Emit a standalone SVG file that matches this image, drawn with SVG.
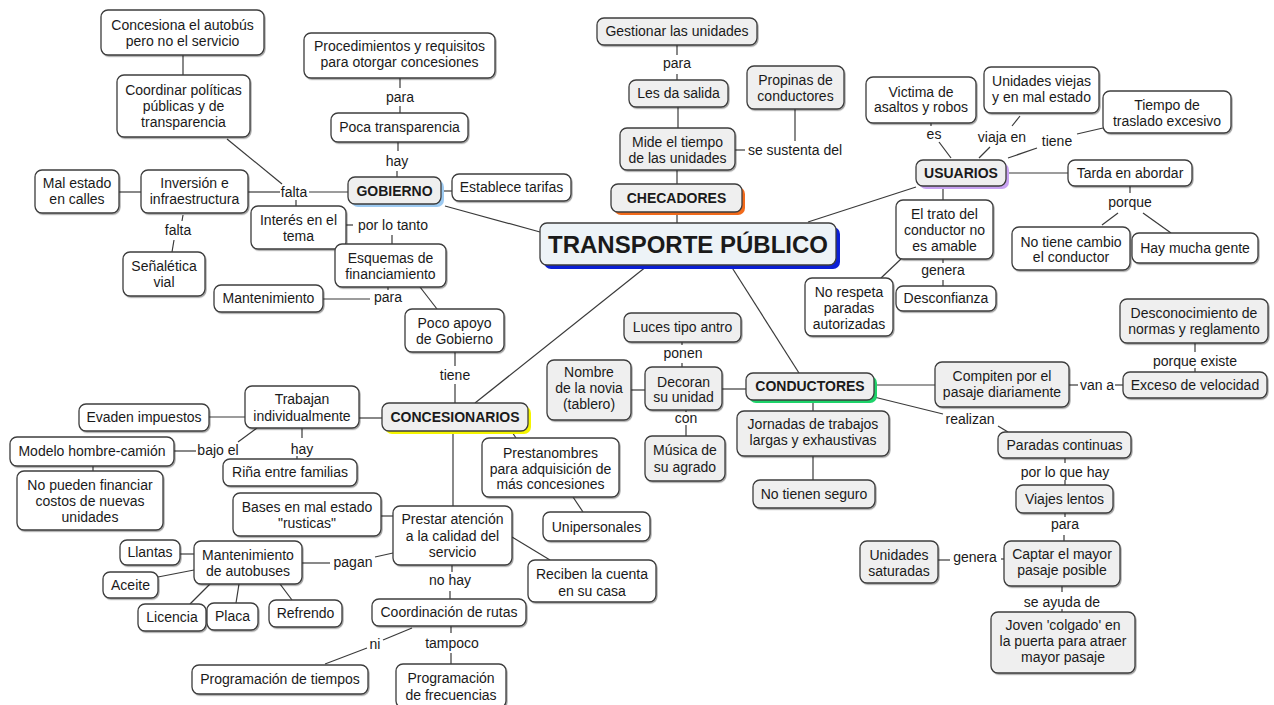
<svg xmlns="http://www.w3.org/2000/svg" width="1274" height="705" viewBox="0 0 1274 705">
<defs>
<filter id="sh" x="-10%" y="-10%" width="130%" height="140%"><feDropShadow dx="1" dy="1.2" stdDeviation="0.7" flood-color="#000" flood-opacity="0.35"/></filter>
</defs>
<style>
rect{stroke:#3c3c3c;stroke-width:1.3;rx:7px;ry:7px}
.w rect{fill:#fff;filter:url(#sh)}
.g rect{fill:#efefef;filter:url(#sh)}
rect.s{stroke:none;filter:none}
text{font-family:"Liberation Sans",Arial,sans-serif;font-size:14px;fill:#1a1a1a;text-anchor:middle}
.b text{font-weight:bold}
.lb{fill:#1a1a1a}
#connectors line,#connectors path{stroke:#3a3a3a;stroke-width:1.2;fill:none}
</style>
<rect x="0" y="0" width="1274" height="705" style="fill:#fff;stroke:none"/>
<g id="connectors">
<line x1="183" y1="55" x2="183" y2="75"/>
<line x1="227" y1="139" x2="282" y2="184"/>
<line x1="309" y1="192" x2="348" y2="192"/>
<line x1="248" y1="192" x2="280" y2="192"/>
<line x1="296" y1="200" x2="296" y2="206"/>
<line x1="119" y1="192" x2="141" y2="192"/>
<line x1="183" y1="215" x2="182" y2="221"/>
<line x1="174" y1="240" x2="172" y2="252"/>
<line x1="400" y1="78" x2="400" y2="88"/>
<line x1="400" y1="106" x2="400" y2="113"/>
<line x1="398" y1="142" x2="398" y2="151"/>
<line x1="397" y1="171" x2="397" y2="177"/>
<line x1="441" y1="191" x2="452" y2="191"/>
<line x1="445" y1="206" x2="540" y2="232"/>
<line x1="346" y1="225" x2="353" y2="225"/>
<line x1="392" y1="235" x2="392" y2="244"/>
<line x1="323" y1="299" x2="370" y2="299"/>
<line x1="388" y1="287" x2="388" y2="290"/>
<line x1="420" y1="287" x2="437" y2="309"/>
<line x1="455" y1="352" x2="455" y2="366"/>
<line x1="455" y1="384" x2="455" y2="403"/>
<line x1="647" y1="266" x2="475" y2="403"/>
<line x1="677" y1="212" x2="677" y2="223"/>
<line x1="677" y1="170" x2="677" y2="184"/>
<line x1="678" y1="107" x2="678" y2="128"/>
<line x1="677" y1="74" x2="677" y2="80"/>
<line x1="677" y1="45" x2="677" y2="55"/>
<line x1="735" y1="150" x2="745" y2="150"/>
<line x1="795" y1="109" x2="795" y2="141"/>
<line x1="808" y1="222" x2="916" y2="187"/>
<line x1="931" y1="123" x2="931" y2="126"/>
<line x1="939" y1="142" x2="951" y2="158"/>
<line x1="1020" y1="116" x2="1012" y2="126"/>
<line x1="990" y1="147" x2="979" y2="158"/>
<line x1="1103" y1="128" x2="1077" y2="134"/>
<line x1="1037" y1="148" x2="1008" y2="158"/>
<line x1="1006" y1="173" x2="1068" y2="173"/>
<line x1="1130" y1="186" x2="1130" y2="193"/>
<line x1="1118" y1="213" x2="1102" y2="225"/>
<line x1="1143" y1="213" x2="1171" y2="233"/>
<line x1="943" y1="186" x2="943" y2="200"/>
<line x1="943" y1="259" x2="943" y2="263"/>
<line x1="943" y1="280" x2="943" y2="286"/>
<line x1="901" y1="259" x2="881" y2="278"/>
<line x1="731" y1="266" x2="799" y2="373"/>
<line x1="682" y1="342" x2="682" y2="345"/>
<line x1="682" y1="363" x2="682" y2="367"/>
<line x1="686" y1="410" x2="686" y2="412"/>
<line x1="686" y1="425" x2="686" y2="436"/>
<line x1="631" y1="390" x2="645" y2="390"/>
<line x1="722" y1="389" x2="746" y2="389"/>
<line x1="813" y1="400" x2="813" y2="411"/>
<line x1="813" y1="456" x2="813" y2="480"/>
<line x1="874" y1="385" x2="935" y2="385"/>
<line x1="874" y1="397" x2="943" y2="414"/>
<line x1="998" y1="426" x2="1008" y2="432"/>
<line x1="1069" y1="385" x2="1078" y2="385"/>
<line x1="1115" y1="385" x2="1123" y2="385"/>
<line x1="1195" y1="368" x2="1195" y2="372"/>
<line x1="1195" y1="343" x2="1195" y2="352"/>
<line x1="1065" y1="458" x2="1065" y2="463"/>
<line x1="1065" y1="480" x2="1065" y2="485"/>
<line x1="1065" y1="513" x2="1065" y2="517"/>
<line x1="1064" y1="535" x2="1064" y2="541"/>
<line x1="1062" y1="586" x2="1062" y2="592"/>
<line x1="1062" y1="609" x2="1062" y2="612"/>
<line x1="938" y1="560" x2="950" y2="560"/>
<line x1="1001" y1="559" x2="1004" y2="559"/>
<line x1="359" y1="418" x2="382" y2="418"/>
<line x1="209" y1="417" x2="245" y2="417"/>
<line x1="257" y1="428" x2="238" y2="442"/>
<line x1="174" y1="451" x2="196" y2="451"/>
<line x1="302" y1="428" x2="302" y2="438"/>
<line x1="297" y1="456" x2="297" y2="459"/>
<line x1="93" y1="466" x2="93" y2="471"/>
<line x1="381" y1="516" x2="393" y2="516"/>
<line x1="453" y1="431" x2="453" y2="506"/>
<line x1="512" y1="432" x2="516" y2="438"/>
<line x1="573" y1="497" x2="583" y2="512"/>
<line x1="512" y1="537" x2="550" y2="560"/>
<line x1="393" y1="553" x2="375" y2="557"/>
<line x1="302" y1="563" x2="330" y2="563"/>
<line x1="180" y1="554" x2="194" y2="554"/>
<line x1="158" y1="577" x2="194" y2="570"/>
<line x1="190" y1="604" x2="210" y2="584"/>
<line x1="236" y1="603" x2="239" y2="584"/>
<line x1="292" y1="600" x2="280" y2="584"/>
<line x1="452" y1="565" x2="452" y2="572"/>
<line x1="450" y1="591" x2="450" y2="599"/>
<line x1="451" y1="626" x2="451" y2="633"/>
<line x1="451" y1="653" x2="451" y2="664"/>
<line x1="412" y1="628" x2="383" y2="640"/>
<line x1="367" y1="648" x2="325" y2="664"/>
</g>
<g id="labels">
<text x="400" y="102">para</text>
<text x="397" y="166">hay</text>
<text x="294" y="197">falta</text>
<text x="178" y="235">falta</text>
<text x="393" y="230">por lo tanto</text>
<text x="388" y="302">para</text>
<text x="455" y="380">tiene</text>
<text x="677" y="68">para</text>
<text x="795" y="155">se sustenta del</text>
<text x="934" y="139">es</text>
<text x="1002" y="142">viaja en</text>
<text x="1057" y="146">tiene</text>
<text x="1130" y="207">porque</text>
<text x="943" y="275">genera</text>
<text x="683" y="358">ponen</text>
<text x="686" y="423">con</text>
<text x="1097" y="390">van a</text>
<text x="1195" y="366">porque existe</text>
<text x="970" y="424">realizan</text>
<text x="1065" y="477">por lo que hay</text>
<text x="1065" y="529">para</text>
<text x="975" y="562">genera</text>
<text x="1062" y="607">se ayuda de</text>
<text x="218" y="455">bajo el</text>
<text x="302" y="454">hay</text>
<text x="353" y="567">pagan</text>
<text x="450" y="585">no hay</text>
<text x="375" y="649">ni</text>
<text x="452" y="648">tampoco</text>
</g>
<g id="transporte" class="b"><rect class="s" x="544" y="227" width="296" height="42" style="fill:#0a1fd6"/><rect x="540" y="223" width="296" height="42" style="fill:#edf3f7;filter:none"/><text x="688" y="253" style="font-size:24px">TRANSPORTE PÚBLICO</text></g>
<g id="gobierno" class="g b"><rect class="s" x="351" y="180" width="93" height="27" style="fill:#9ccaf2"/><rect x="348" y="177" width="93" height="27" style="filter:none"/><text x="394.5" y="196">GOBIERNO</text></g>
<g id="checadores" class="g b"><rect class="s" x="614" y="187" width="131" height="28" style="fill:#f26a1b"/><rect x="611" y="184" width="131" height="28" style="filter:none"/><text x="676.5" y="203">CHECADORES</text></g>
<g id="usuarios" class="g b"><rect class="s" x="919" y="163" width="90" height="26" style="fill:#c8a2f2"/><rect x="916" y="160" width="90" height="26" style="filter:none"/><text x="961" y="178">USUARIOS</text></g>
<g id="conductores" class="g b"><rect class="s" x="749" y="376" width="128" height="27" style="fill:#1ed36a"/><rect x="746" y="373" width="128" height="27" style="filter:none"/><text x="810" y="391">CONDUCTORES</text></g>
<g id="concesionarios" class="g b"><rect class="s" x="385" y="406" width="146" height="28" style="fill:#f5f500"/><rect x="382" y="403" width="146" height="28" style="filter:none"/><text x="455" y="422">CONCESIONARIOS</text></g>
<g id="concesiona" class="w"><rect x="101" y="10" width="163" height="45"/><text x="182.5" y="30">Concesiona el autobús</text><text x="182.5" y="46">pero no el servicio</text></g>
<g id="coordinar" class="w"><rect x="117" y="75" width="133" height="62"/><text x="183.5" y="95">Coordinar políticas</text><text x="183.5" y="111">públicas y de</text><text x="183.5" y="127">transparencia</text></g>
<g id="procedimientos" class="w"><rect x="304" y="33" width="191" height="45"/><text x="399.5" y="51">Procedimientos y requisitos</text><text x="399.5" y="67">para otorgar concesiones</text></g>
<g id="poca" class="w"><rect x="331" y="113" width="137" height="29"/><text x="399.5" y="132">Poca transparencia</text></g>
<g id="establece" class="w"><rect x="452" y="174" width="119" height="27"/><text x="511.5" y="192">Establece tarifas</text></g>
<g id="malestado" class="w"><rect x="35" y="170" width="84" height="43"/><text x="77" y="188">Mal estado</text><text x="77" y="204">en calles</text></g>
<g id="inversion" class="w"><rect x="141" y="170" width="107" height="43"/><text x="194.5" y="188">Inversión e</text><text x="194.5" y="204">infraestructura</text></g>
<g id="senaletica" class="w"><rect x="123" y="252" width="82" height="44"/><text x="164" y="271">Señalética</text><text x="164" y="287">vial</text></g>
<g id="interes" class="w"><rect x="251" y="206" width="95" height="43"/><text x="298.5" y="225">Interés en el</text><text x="298.5" y="241">tema</text></g>
<g id="esquemas" class="w"><rect x="335" y="244" width="111" height="43"/><text x="390.5" y="263">Esquemas de</text><text x="390.5" y="279">financiamiento</text></g>
<g id="mantenimiento" class="w"><rect x="214" y="285" width="109" height="27"/><text x="268.5" y="303">Mantenimiento</text></g>
<g id="pocoapoyo" class="w"><rect x="405" y="309" width="99" height="43"/><text x="454.5" y="328">Poco apoyo</text><text x="454.5" y="344">de Gobierno</text></g>
<g id="mide" class="g"><rect x="620" y="128" width="115" height="42"/><text x="677.5" y="147">Mide el tiempo</text><text x="677.5" y="163">de las unidades</text></g>
<g id="propinas" class="g"><rect x="747" y="66" width="97" height="43"/><text x="795.5" y="85">Propinas de</text><text x="795.5" y="101">conductores</text></g>
<g id="lesda" class="g"><rect x="629" y="80" width="99" height="27"/><text x="678.5" y="98">Les da salida</text></g>
<g id="gestionar" class="g"><rect x="597" y="18" width="160" height="27"/><text x="677" y="36">Gestionar las unidades</text></g>
<g id="victima" class="w"><rect x="866" y="77" width="110" height="46"/><text x="921" y="97">Victima de</text><text x="921" y="112">asaltos y robos</text></g>
<g id="viejas" class="w"><rect x="984" y="67" width="115" height="46"/><text x="1041.5" y="86">Unidades viejas</text><text x="1041.5" y="102">y en mal estado</text></g>
<g id="tiempo" class="w"><rect x="1103" y="91" width="128" height="42"/><text x="1167" y="110">Tiempo de</text><text x="1167" y="126">traslado excesivo</text></g>
<g id="tarda" class="w"><rect x="1068" y="160" width="124" height="26"/><text x="1130" y="178">Tarda en abordar</text></g>
<g id="notiene" class="w"><rect x="1012" y="227" width="118" height="43"/><text x="1071" y="247">No tiene cambio</text><text x="1071" y="262">el conductor</text></g>
<g id="haymucha" class="w"><rect x="1132" y="233" width="126" height="30"/><text x="1195" y="253">Hay mucha gente</text></g>
<g id="trato" class="w"><rect x="896" y="200" width="97" height="59"/><text x="944.5" y="219">El trato del</text><text x="944.5" y="235">conductor no</text><text x="944.5" y="251">es amable</text></g>
<g id="norespeta" class="w"><rect x="805" y="278" width="88" height="58"/><text x="849" y="297">No respeta</text><text x="849" y="313">paradas</text><text x="849" y="329">autorizadas</text></g>
<g id="desconfianza" class="w"><rect x="896" y="286" width="100" height="25"/><text x="946" y="303">Desconfianza</text></g>
<g id="luces" class="g"><rect x="624" y="313" width="117" height="29"/><text x="682.5" y="332">Luces tipo antro</text></g>
<g id="decoran" class="g"><rect x="645" y="367" width="77" height="43"/><text x="683.5" y="387">Decoran</text><text x="683.5" y="402">su unidad</text></g>
<g id="nombre" class="g"><rect x="547" y="360" width="84" height="60"/><text x="589" y="377">Nombre</text><text x="589" y="393">de la novia</text><text x="589" y="409">(tablero)</text></g>
<g id="musica" class="g"><rect x="645" y="436" width="80" height="45"/><text x="685" y="455">Música de</text><text x="685" y="472">su agrado</text></g>
<g id="jornadas" class="g"><rect x="737" y="411" width="152" height="45"/><text x="813" y="429">Jornadas de trabajos</text><text x="813" y="445">largas y exhaustivas</text></g>
<g id="noseguro" class="g"><rect x="753" y="480" width="122" height="28"/><text x="814" y="499">No tienen seguro</text></g>
<g id="compiten" class="g"><rect x="935" y="362" width="134" height="45"/><text x="1002" y="381">Compiten por el</text><text x="1002" y="397">pasaje diariamente</text></g>
<g id="exceso" class="g"><rect x="1123" y="372" width="144" height="26"/><text x="1195" y="390">Exceso de velocidad</text></g>
<g id="desconocimiento" class="g"><rect x="1120" y="299" width="148" height="44"/><text x="1194" y="318">Desconocimiento de</text><text x="1194" y="334">normas y reglamento</text></g>
<g id="paradas" class="g"><rect x="998" y="432" width="133" height="26"/><text x="1064.5" y="450">Paradas continuas</text></g>
<g id="viajes" class="g"><rect x="1016" y="485" width="97" height="28"/><text x="1064.5" y="504">Viajes lentos</text></g>
<g id="captar" class="g"><rect x="1004" y="541" width="116" height="45"/><text x="1062" y="559">Captar el mayor</text><text x="1062" y="575">pasaje posible</text></g>
<g id="saturadas" class="g"><rect x="860" y="541" width="78" height="42"/><text x="899" y="560">Unidades</text><text x="899" y="576">saturadas</text></g>
<g id="joven" class="g"><rect x="991" y="612" width="144" height="61"/><text x="1063" y="630">Joven 'colgado' en</text><text x="1063" y="646">la puerta para atraer</text><text x="1063" y="662">mayor pasaje</text></g>
<g id="trabajan" class="w"><rect x="245" y="386" width="114" height="42"/><text x="302" y="404">Trabajan</text><text x="302" y="421">individualmente</text></g>
<g id="evaden" class="w"><rect x="79" y="404" width="130" height="27"/><text x="144" y="422">Evaden impuestos</text></g>
<g id="modelo" class="w"><rect x="10" y="437" width="164" height="29"/><text x="92" y="456">Modelo hombre-camión</text></g>
<g id="rina" class="w"><rect x="223" y="459" width="134" height="27"/><text x="290" y="477">Riña entre familias</text></g>
<g id="nopueden" class="w"><rect x="17" y="471" width="146" height="59"/><text x="90" y="490">No pueden financiar</text><text x="90" y="506">costos de nuevas</text><text x="90" y="522">unidades</text></g>
<g id="bases" class="w"><rect x="233" y="493" width="148" height="43"/><text x="307" y="512">Bases en mal estado</text><text x="307" y="528">"rusticas"</text></g>
<g id="prestar" class="w"><rect x="393" y="506" width="119" height="59"/><text x="452.5" y="524">Prestar atención</text><text x="452.5" y="541">a la calidad del</text><text x="452.5" y="557">servicio</text></g>
<g id="prestanombres" class="w"><rect x="482" y="438" width="137" height="59"/><text x="550.5" y="458">Prestanombres</text><text x="550.5" y="474">para adquisición de</text><text x="550.5" y="489">más concesiones</text></g>
<g id="unipersonales" class="w"><rect x="543" y="512" width="107" height="29"/><text x="596.5" y="532">Unipersonales</text></g>
<g id="reciben" class="w"><rect x="528" y="560" width="128" height="42"/><text x="592" y="579">Reciben la cuenta</text><text x="592" y="596">en su casa</text></g>
<g id="coordinacion" class="w"><rect x="372" y="599" width="154" height="27"/><text x="449" y="617">Coordinación de rutas</text></g>
<g id="progtiempos" class="w"><rect x="192" y="665" width="176" height="29"/><text x="280" y="684">Programación de tiempos</text></g>
<g id="progfrec" class="w"><rect x="396" y="664" width="110" height="44"/><text x="451" y="683">Programación</text><text x="451" y="700">de frecuencias</text></g>
<g id="mantaut" class="w"><rect x="194" y="541" width="108" height="43"/><text x="248" y="560">Mantenimiento</text><text x="248" y="576">de autobuses</text></g>
<g id="llantas" class="w"><rect x="120" y="540" width="60" height="25"/><text x="150" y="557">Llantas</text></g>
<g id="aceite" class="w"><rect x="103" y="572" width="55" height="26"/><text x="130.5" y="590">Aceite</text></g>
<g id="licencia" class="w"><rect x="138" y="604" width="68" height="27"/><text x="172" y="622">Licencia</text></g>
<g id="placa" class="w"><rect x="207" y="603" width="51" height="27"/><text x="232.5" y="621">Placa</text></g>
<g id="refrendo" class="w"><rect x="269" y="600" width="73" height="27"/><text x="305.5" y="618">Refrendo</text></g>
</svg>
